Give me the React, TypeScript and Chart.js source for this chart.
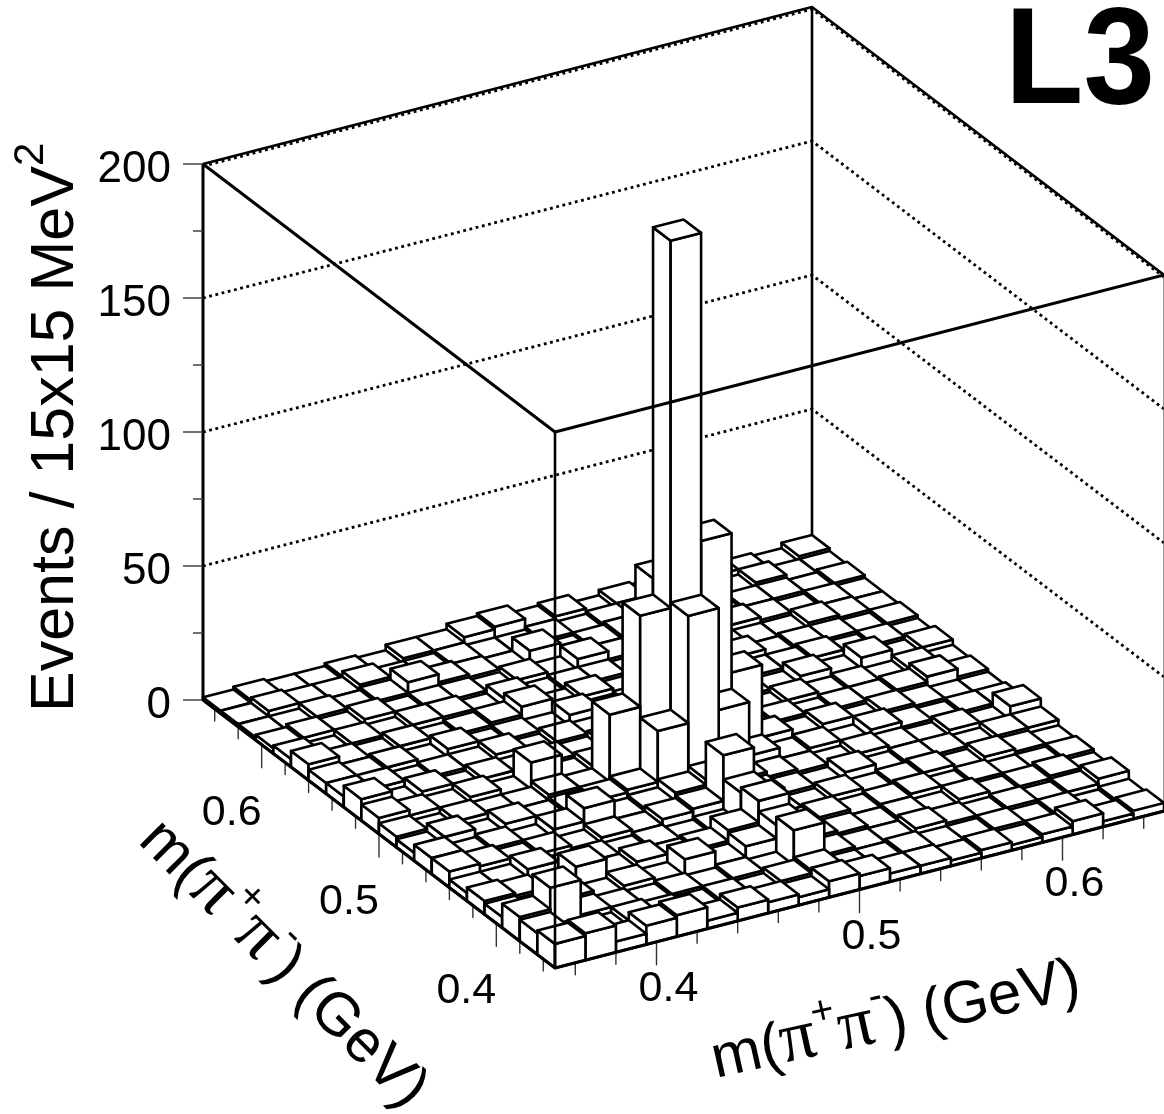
import React, { useEffect, useRef } from "react";
import { Chart, registerables } from "chart.js";

Chart.register(...registerables);

// events per 15x15 MeV bin; row = left axis bin (front to back), column = right axis bin
const row00 = [9, 10, 4, 7, 8, 3, 5, 4, 3, 6, 5, 3, 3, 2, 3, 2, 3, 5, 2, 3];
const row01 = [8, 3, 2, 4, 3, 2, 3, 2, 4, 5, 2, 2, 3, 2, 2, 3, 2, 3, 1, 2];
const row02 = [9, 17, 4, 3, 2, 3, 2, 3, 2, 15, 3, 2, 2, 4, 3, 2, 3, 2, 3, 5];
const row03 = [4, 3, 5, 2, 4, 2, 8, 3, 7, 12, 4, 3, 2, 3, 2, 4, 2, 3, 4, 2];
const row04 = [5, 4, 2, 9, 3, 5, 3, 4, 8, 16, 3, 4, 2, 3, 4, 2, 3, 2, 2, 3];
const row05 = [3, 3, 6, 2, 3, 2, 3, 2, 3, 14, 3, 2, 4, 2, 3, 4, 2, 4, 3, 2];
const row06 = [6, 5, 3, 4, 2, 4, 3, 5, 6, 23, 5, 3, 2, 5, 2, 3, 3, 2, 4, 4];
const row07 = [6, 3, 4, 2, 5, 10, 3, 4, 7, 9, 6, 4, 3, 2, 4, 3, 2, 4, 2, 7];
const row08 = [3, 6, 2, 5, 3, 4, 5, 6, 25, 65, 27, 7, 3, 4, 2, 5, 3, 2, 3, 3];
const row09 = [4, 2, 4, 3, 3, 5, 4, 29, 63, 200, 85, 33, 6, 3, 5, 2, 4, 3, 2, 2];
const row10 = [6, 4, 3, 5, 2, 12, 3, 5, 6, 69, 9, 5, 3, 4, 2, 3, 3, 4, 6, 3];
const row11 = [8, 2, 5, 2, 4, 3, 4, 3, 5, 6, 5, 3, 4, 2, 4, 2, 3, 2, 4, 2];
const row12 = [4, 4, 2, 3, 3, 5, 2, 4, 3, 5, 3, 4, 2, 3, 2, 5, 2, 6, 2, 4];
const row13 = [4, 3, 4, 2, 5, 2, 3, 2, 6, 3, 4, 2, 4, 2, 3, 3, 4, 2, 3, 2];
const row14 = [6, 3, 2, 4, 2, 3, 4, 7, 3, 5, 2, 4, 3, 3, 5, 2, 3, 3, 2, 3];
const row15 = [3, 1, 3, 2, 4, 4, 2, 5, 2, 3, 3, 2, 4, 2, 3, 2, 2, 4, 3, 2];
const row16 = [2, 3, 2, 4, 2, 3, 3, 2, 4, 2, 6, 3, 2, 3, 2, 4, 3, 2, 3, 2];
const row17 = [1, 1, 3, 2, 3, 7, 4, 3, 2, 7, 2, 3, 4, 2, 4, 2, 3, 3, 2, 3];
const row18 = [1, 3, 2, 2, 4, 2, 2, 3, 2, 2, 3, 2, 3, 3, 2, 3, 2, 4, 2, 2];
const row19 = [1, 2, 1, 1, 2, 1, 3, 3, 5, 6, 3, 4, 1, 3, 2, 1, 4, 2, 1, 3];
const rows = [row00, row01, row02, row03, row04, row05, row06, row07, row08, row09, row10, row11, row12, row13, row14, row15, row16, row17, row18, row19];

const axisMin = 0.35;
const axisMax = 0.65;
const axisMajor = [0.4, 0.5, 0.6];
const axisMinor = [0.36, 0.38, 0.42, 0.44, 0.46, 0.48, 0.52, 0.54, 0.56, 0.58, 0.62, 0.64];
const zMajor = [0, 50, 100, 150, 200];
const zMinor = [25, 75, 125, 175];
const zTop = 200;

const W = 1164;
const H = 1114;
const FRONT = { x: 555, y: 968 };
const RIGHT = { x: 609, y: -157 };
const LEFT = { x: -352, y: -268 };
const ZPX = 536 / zTop;

// u: 0..1 along right axis; v: 0..1 along left axis; z: events
const proj = (u: number, v: number, z = 0) => ({
  x: FRONT.x + u * RIGHT.x + v * LEFT.x,
  y: FRONT.y + u * RIGHT.y + v * LEFT.y - z * ZPX,
});

type Pt = { x: number; y: number };
const line = (data: Pt[], o: any = {}) => ({
  type: "line",
  data,
  parsing: false,
  showLine: true,
  pointRadius: 0,
  pointHoverRadius: 0,
  tension: 0,
  borderColor: "#000",
  borderWidth: 2.6,
  borderJoinStyle: "round",
  borderCapStyle: "butt",
  fill: false,
  clip: false,
  ...o,
});

const buildDatasets = () => {
  const back: any[] = [];
  const dotted = { borderDash: [2.8, 3.6], borderWidth: 2.8 };
  for (const z of zMajor) {
    if (z === 0) continue;
    const dz = z === zTop ? -0.8 : 0;
    back.push(line([proj(0, 1, z + dz), proj(1, 1, z + dz), proj(1, 0, z + dz)], dotted));
  }
  back.push(line([proj(0, 1, 0), proj(0, 1, zTop)], { borderWidth: 3 }));
  back.push(line([proj(1, 1, 0), proj(1, 1, zTop)], { borderWidth: 2.6 }));
  back.push(line([proj(1, 0, 0), proj(1, 0, zTop)], { borderWidth: 1.2, borderColor: "#555" }));
  back.push(line([proj(0, 1, zTop), proj(1, 1, zTop), proj(1, 0, zTop)], { borderWidth: 2.6 }));
  // ticks
  const tick = { borderWidth: 1.4, borderColor: "#333" };
  for (const z of zMajor) {
    const p = proj(0, 1, z);
    back.push(line([{ x: p.x - 20, y: p.y }, p], tick));
  }
  for (const z of zMinor) {
    const p = proj(0, 1, z);
    back.push(line([{ x: p.x - 10, y: p.y }, p], tick));
  }
  const frac = (t: number) => (t - axisMin) / (axisMax - axisMin);
  for (const t of axisMajor) {
    const a = proj(frac(t), 0);
    const b = proj(0, frac(t));
    back.push(line([a, { x: a.x, y: a.y + 23 }], tick));
    back.push(line([b, { x: b.x, y: b.y + 23 }], tick));
  }
  for (const t of axisMinor) {
    const a = proj(frac(t), 0);
    const b = proj(0, frac(t));
    back.push(line([a, { x: a.x, y: a.y + 12 }], tick));
    back.push(line([b, { x: b.x, y: b.y + 12 }], tick));
  }
  // bars, back to front
  const n = rows.length;
  const faceStyle = { fill: "shape", backgroundColor: "#fff", borderWidth: 2.6 };
  for (let j = n - 1; j >= 0; j--) {
    for (let i = n - 1; i >= 0; i--) {
      const h = rows[j][i];
      const u0 = i / n, u1 = (i + 1) / n, v0 = j / n, v1 = (j + 1) / n;
      const poly = (pts: Pt[]) => back.push(line([...pts, pts[0]], faceStyle));
      poly([proj(u0, v0, 0), proj(u0, v1, 0), proj(u0, v1, h), proj(u0, v0, h)]);
      poly([proj(u0, v0, 0), proj(u1, v0, 0), proj(u1, v0, h), proj(u0, v0, h)]);
      poly([proj(u0, v0, h), proj(u1, v0, h), proj(u1, v1, h), proj(u0, v1, h)]);
    }
  }
  // front frame drawn over the bars
  back.push(line([proj(0, 0, 0), proj(0, 0, zTop)], { borderWidth: 2.6 }));
  back.push(line([proj(0, 1, zTop), proj(0, 0, zTop), proj(1, 0, zTop)], { borderWidth: 3 }));
  back.push(line([proj(0, 1, 0), proj(0, 0, 0), proj(1, 0, 0)], { borderWidth: 3.2 }));
  return back.reverse(); // Chart.js paints the last dataset first
};

type Run = { t: string; size: number; dy?: number; dx?: number; font?: string; weight?: string };
const SANS = '"Liberation Sans"';
const SERIF = '"Liberation Serif"';
const drawRuns = (ctx: CanvasRenderingContext2D, x: number, y: number, rot: number, runs: Run[], sx = 1) => {
  ctx.save();
  ctx.translate(x, y);
  ctx.rotate((rot * Math.PI) / 180);
  ctx.scale(sx, 1);
  ctx.textAlign = "left";
  ctx.textBaseline = "alphabetic";
  ctx.fillStyle = "#000";
  let cx = 0;
  for (const r of runs) {
    ctx.font = `${r.weight || "normal"} ${r.size}px ${r.font || SANS}`;
    cx += r.dx || 0;
    ctx.fillText(r.t, cx, r.dy || 0);
    cx += ctx.measureText(r.t).width;
  }
  ctx.restore();
};

const massTitle = (size: number, gap: number): Run[] => [
  { t: "m(", size },
  { t: "π", size: size * 1.2, font: SERIF },
  { t: "+", size: 40, dy: -30, dx: gap },
  { t: "π", size: size * 1.2, font: SERIF, dx: gap },
  { t: "-", size: 40, dy: -33 },
  { t: ") (GeV)", size },
];

const textPlugin = {
  id: "labels",
  afterDraw(chart: any) {
    const ctx = chart.ctx;
    ctx.save();
    ctx.textBaseline = "alphabetic";
    ctx.fillStyle = "#000";
    ctx.font = `44px ${SANS}`;
    ctx.textAlign = "right";
    const sx = chart.scales.x, sy = chart.scales.y;
    for (const z of zMajor) {
      const p = proj(0, 1, z);
      ctx.fillText(String(z), sx.getPixelForValue(p.x - 32), sy.getPixelForValue(p.y + 18));
    }
    ctx.font = `43px ${SANS}`;
    ctx.textAlign = "center";
    const frac = (t: number) => (t - axisMin) / (axisMax - axisMin);
    for (const t of axisMajor) {
      const a = proj(frac(t), 0);
      const b = proj(0, frac(t));
      ctx.fillText(t.toFixed(1), sx.getPixelForValue(a.x + 12), sy.getPixelForValue(a.y + 59));
      ctx.fillText(t.toFixed(1), sx.getPixelForValue(b.x - 30), sy.getPixelForValue(b.y + 80));
    }
    ctx.restore();
    drawRuns(ctx, 1005, 103, 0, [{ t: "L3", size: 138, weight: "bold" }], 0.93);
    drawRuns(ctx, 73, 712, -90, [
      { t: "Events / 15x15 MeV", size: 61 },
      { t: "2", size: 42, dy: -30 },
    ]);
    drawRuns(ctx, 716, 1078, -12.5, massTitle(60, 0));
    drawRuns(ctx, 137, 842, 45, massTitle(60, 2));
  },
};

export default function App() {
  const ref = useRef<HTMLCanvasElement>(null);
  useEffect(() => {
    document.body.style.margin = "0";
    const chart = new Chart(ref.current!, {
      type: "line",
      data: { datasets: buildDatasets() as any },
      plugins: [textPlugin as any],
      options: {
        animation: false,
        responsive: false,
        devicePixelRatio: 1,
        layout: { padding: 0 },
        events: [],
        plugins: { legend: { display: false }, tooltip: { enabled: false } },
        scales: {
          x: { type: "linear", min: 0, max: W, display: false },
          y: { type: "linear", min: 0, max: H, reverse: true, display: false },
        },
      } as any,
    });
    return () => chart.destroy();
  }, []);
  return <canvas ref={ref} width={W} height={H} style={{ display: "block" }} />;
}
